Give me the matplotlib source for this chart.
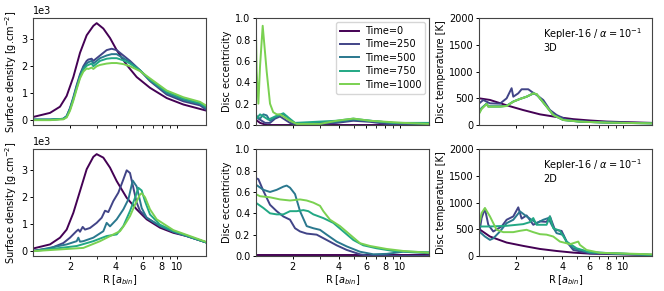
import matplotlib
matplotlib.use("Agg")
import matplotlib.pyplot as plt
from matplotlib.ticker import FixedLocator, FixedFormatter, NullFormatter

times = ["Time=0", "Time=250", "Time=500", "Time=750", "Time=1000"]
colors = ["#440154", "#414487", "#2a788e", "#22a884", "#7ad151"]

# ---------------- 3D : surface density (units of 1e3 g/cm^2) ----------------
sd3_r0 = [1.15, 1.479, 1.720, 1.902, 2.103, 2.326, 2.572, 2.844, 2.991, 3.307, 3.657, 4.045, 4.704, 5.470, 6.689, 8.604, 11.07, 15.5]
sd3_v0 = [0.12, 0.27, 0.5, 0.9, 1.6, 2.5, 3.15, 3.5, 3.6, 3.4, 3.05, 2.6, 2.05, 1.6, 1.2, 0.82, 0.58, 0.36]
sd3_r = [1.15, 1.479, 1.808, 1.902, 2.0, 2.103, 2.212, 2.326, 2.446, 2.572, 2.637, 2.773, 2.844, 2.991, 3.146, 3.478, 3.750, 4.045, 4.473, 4.946, 5.753, 6.689, 8.604, 11.07, 14.23, 15.5]
sd3_v250 = [0.02, 0.02, 0.05, 0.15, 0.45, 0.85, 1.3, 1.7, 2.0, 2.2, 2.25, 2.28, 2.2, 2.3, 2.4, 2.6, 2.65, 2.6, 2.4, 2.2, 1.85, 1.45, 0.95, 0.7, 0.55, 0.4]
sd3_v500 = [0.02, 0.02, 0.05, 0.15, 0.42, 0.8, 1.25, 1.65, 1.95, 2.1, 2.15, 2.2, 2.1, 2.2, 2.3, 2.4, 2.45, 2.45, 2.3, 2.15, 1.85, 1.48, 1.0, 0.75, 0.6, 0.45]
sd3_v750 = [0.02, 0.02, 0.05, 0.13, 0.4, 0.78, 1.2, 1.6, 1.88, 2.02, 2.05, 2.1, 2.0, 2.1, 2.2, 2.28, 2.3, 2.3, 2.22, 2.1, 1.85, 1.5, 1.05, 0.8, 0.63, 0.5]
sd3_v1000 = [0.0, 0.0, 0.03, 0.1, 0.35, 0.72, 1.15, 1.55, 1.8, 1.92, 1.9, 1.95, 1.9, 2.0, 2.05, 2.1, 2.12, 2.12, 2.08, 2.0, 1.82, 1.55, 1.1, 0.85, 0.68, 0.55]

# ---------------- 2D : surface density ----------------
sd2_r0 = [1.15, 1.479, 1.720, 1.902, 2.103, 2.326, 2.572, 2.844, 2.991, 3.307, 3.657, 4.045, 4.704, 5.470, 6.361, 7.780, 9.513, 11.63, 15.5]
sd2_v0 = [0.1, 0.25, 0.5, 0.8, 1.42, 2.23, 3.04, 3.5, 3.6, 3.47, 3.1, 2.6, 1.98, 1.55, 1.18, 0.87, 0.68, 0.56, 0.33]
sd2_r250 = [1.15, 1.479, 1.808, 2.0, 2.212, 2.268, 2.326, 2.422, 2.508, 2.705, 2.991, 3.226, 3.392, 3.566, 3.846, 4.148, 4.473, 4.704, 4.946, 5.203, 5.470, 5.753, 6.361, 7.780, 9.513, 11.63, 15.5]
sd2_v250 = [0.02, 0.1, 0.3, 0.5, 0.75, 0.8, 0.72, 0.9, 0.8, 0.86, 1.05, 1.24, 1.5, 1.45, 1.86, 2.17, 2.66, 3.0, 2.9, 2.35, 1.8, 1.49, 1.24, 0.93, 0.72, 0.56, 0.33]
sd2_r500 = [1.15, 1.902, 2.212, 2.268, 2.326, 2.446, 2.844, 3.307, 3.478, 3.657, 4.045, 4.473, 4.824, 5.150, 5.470, 5.899, 6.361, 7.780, 9.513, 15.5]
sd2_v500 = [0.0, 0.25, 0.37, 0.5, 0.35, 0.37, 0.5, 0.74, 1.05, 0.92, 1.18, 1.55, 1.92, 2.62, 2.4, 1.6, 1.24, 0.93, 0.72, 0.33]
sd2_r750 = [1.15, 2.212, 2.844, 3.478, 4.045, 4.473, 4.946, 5.336, 5.610, 5.899, 6.203, 6.689, 7.780, 9.513, 15.5]
sd2_v750 = [0.0, 0.19, 0.37, 0.56, 0.62, 0.93, 1.49, 1.98, 2.35, 2.25, 1.85, 1.36, 0.98, 0.75, 0.33]
sd2_r1000 = [1.15, 2.446, 3.146, 3.846, 4.254, 4.587, 4.946, 5.336, 5.753, 5.899, 6.203, 6.689, 7.397, 7.780, 9.513, 15.5]
sd2_v1000 = [0.0, 0.12, 0.37, 0.62, 0.74, 1.0, 1.3, 1.73, 2.1, 2.15, 2.0, 1.55, 1.18, 1.1, 0.78, 0.35]

# ---------------- 3D : eccentricity ----------------
ec3_r0 = [1.15, 1.227, 1.356, 2.0, 15.5]
ec3_v0 = [0.05, 0.02, 0.0, 0.0, 0.0]
ec3_r250 = [1.15, 1.197, 1.258, 1.323, 1.425, 1.537, 1.656, 1.784, 1.923, 2.126, 3.869, 4.966, 6.374, 8.182, 15.5]
ec3_v250 = [0.1, 0.06, 0.04, 0.02, 0.02, 0.06, 0.08, 0.05, 0.02, 0.0, 0.02, 0.04, 0.03, 0.01, 0.0]
ec3_r500 = [1.15, 1.227, 1.290, 1.356, 1.425, 1.575, 1.741, 1.829, 1.972, 2.126, 3.869, 4.966, 6.374, 9.042, 15.5]
ec3_v500 = [0.08, 0.06, 0.1, 0.09, 0.04, 0.08, 0.1, 0.08, 0.03, 0.01, 0.03, 0.05, 0.04, 0.02, 0.01]
ec3_r750 = [1.15, 1.227, 1.290, 1.390, 1.537, 1.741, 1.876, 2.073, 3.869, 4.966, 6.374, 9.042, 15.5]
ec3_v750 = [0.05, 0.1, 0.08, 0.05, 0.08, 0.11, 0.07, 0.02, 0.04, 0.06, 0.04, 0.02, 0.02]
ec3_r1000 = [1.15, 1.167, 1.197, 1.227, 1.277, 1.356, 1.425, 1.495, 1.575, 1.656, 1.741, 1.829, 1.923, 2.126, 3.015, 3.869, 4.966, 6.374, 8.182, 10.50, 15.5]
ec3_v1000 = [1.0, 0.5, 0.2, 0.55, 0.93, 0.5, 0.2, 0.12, 0.1, 0.1, 0.08, 0.06, 0.04, 0.01, 0.01, 0.04, 0.06, 0.04, 0.03, 0.02, 0.01]

# ---------------- 2D : eccentricity ----------------
ec2_r0 = [1.15, 15.5]
ec2_v0 = [0.01, 0.01]
ec2_r250 = [1.15, 1.197, 1.290, 1.425, 1.575, 1.741, 1.923, 2.073, 2.234, 2.469, 2.868, 3.332, 3.869, 4.494, 5.487, 6.374, 15.5]
ec2_v250 = [0.73, 0.72, 0.61, 0.48, 0.42, 0.37, 0.34, 0.26, 0.23, 0.21, 0.2, 0.15, 0.1, 0.057, 0.016, 0.0, 0.0]
ec2_r500 = [1.15, 1.290, 1.425, 1.575, 1.741, 1.829, 1.923, 2.073, 2.234, 2.469, 2.728, 3.015, 3.332, 3.869, 4.494, 5.487, 6.700, 8.182, 10.50, 15.5]
ec2_v500 = [0.67, 0.62, 0.6, 0.62, 0.65, 0.66, 0.64, 0.58, 0.42, 0.28, 0.26, 0.245, 0.2, 0.135, 0.09, 0.04, 0.016, 0.02, 0.04, 0.025]
ec2_r750 = [1.15, 1.290, 1.425, 1.575, 1.741, 1.923, 2.126, 2.349, 2.531, 2.728, 3.169, 3.681, 4.275, 4.966, 5.768, 7.043, 9.042, 11.61, 15.5]
ec2_v750 = [0.5, 0.45, 0.4, 0.39, 0.39, 0.42, 0.42, 0.43, 0.42, 0.39, 0.355, 0.31, 0.23, 0.15, 0.1, 0.072, 0.047, 0.04, 0.035]
ec2_r1000 = [1.15, 1.227, 1.425, 1.656, 1.923, 2.234, 2.469, 2.728, 3.015, 3.169, 3.502, 4.068, 4.724, 5.487, 6.374, 8.182, 10.50, 15.5]
ec2_v1000 = [0.58, 0.56, 0.55, 0.53, 0.52, 0.53, 0.52, 0.5, 0.47, 0.42, 0.34, 0.28, 0.2, 0.12, 0.094, 0.066, 0.047, 0.03]

# ---------------- 3D : temperature ----------------
te3_r0 = [1.15, 1.350, 1.735, 2.228, 2.863, 3.678, 4.725, 6.070, 7.798, 10.02, 15.5]
te3_v0 = [500, 470, 370, 280, 200, 150, 110, 85, 65, 55, 40]
te3_r250 = [1.15, 1.221, 1.350, 1.569, 1.735, 1.823, 1.870, 1.918, 2.067, 2.174, 2.402, 2.525, 2.723, 3.010, 3.328, 3.678, 4.274, 5.223, 7.798, 15.5]
te3_v250 = [406, 469, 406, 400, 500, 625, 690, 531, 594, 670, 670, 625, 563, 469, 281, 188, 100, 70, 50, 35]
te3_r = [1.15, 1.191, 1.284, 1.317, 1.569, 1.735, 1.918, 2.120, 2.342, 2.590, 2.723, 2.863, 3.164, 3.498, 4.066, 5.223, 7.798, 15.5]
te3_v500 = [250, 320, 400, 350, 350, 360, 440, 490, 530, 590, 575, 500, 350, 190, 95, 63, 45, 31]
te3_v750 = [230, 310, 398, 346, 346, 358, 438, 488, 531, 592, 578, 500, 346, 188, 94, 63, 45, 31]
te3_v1000 = [219, 300, 394, 344, 344, 356, 438, 488, 531, 594, 580, 500, 344, 188, 94, 63, 45, 31]

# ---------------- 2D : temperature ----------------
te2_r0 = [1.15, 1.350, 1.735, 2.228, 2.863, 3.678, 4.725, 6.070, 15.5]
te2_v0 = [503, 365, 252, 189, 132, 94, 63, 44, 19]
te2_r250 = [1.15, 1.191, 1.252, 1.317, 1.419, 1.609, 1.735, 1.918, 2.067, 2.174, 2.342, 2.590, 2.863, 3.164, 3.328, 3.587, 3.965, 4.274, 4.725, 6.070, 15.5]
te2_v250 = [428, 711, 887, 585, 459, 553, 679, 742, 912, 700, 760, 585, 648, 640, 742, 491, 470, 270, 113, 50, 20]
te2_r500 = [1.15, 1.252, 1.350, 1.419, 1.569, 1.735, 1.918, 2.120, 2.342, 2.723, 3.010, 3.245, 3.412, 3.678, 4.066, 4.274, 4.725, 6.070, 15.5]
te2_v500 = [459, 365, 302, 330, 459, 616, 679, 836, 742, 616, 679, 711, 585, 428, 396, 270, 145, 69, 20]
te2_r750 = [1.15, 1.350, 1.735, 2.228, 2.463, 2.590, 2.723, 3.164, 3.328, 3.498, 3.867, 4.274, 4.968, 6.070, 15.5]
te2_v750 = [553, 553, 566, 597, 635, 711, 585, 585, 742, 522, 472, 270, 145, 69, 20]
te2_r1000 = [1.15, 1.191, 1.252, 1.350, 1.492, 1.650, 1.918, 2.120, 2.342, 2.590, 2.863, 3.164, 3.498, 3.867, 4.274, 4.494, 5.093, 5.223, 5.772, 7.056, 15.5]
te2_v1000 = [597, 805, 900, 742, 491, 447, 447, 472, 491, 447, 409, 400, 365, 270, 239, 220, 270, 208, 113, 60, 31]

x_major = [2, 4, 6, 8, 10]
x_major_labels = ["2", "4", "6", "8", "10"]
x_minor = [3, 5, 7, 9]
xlim = (1.15, 15.5)

FS = 7
plt.rcParams.update({
    "font.size": FS,
    "axes.edgecolor": "#444444",
    "axes.linewidth": 0.8,
    "xtick.major.size": 2.5,
    "xtick.minor.size": 2.0,
    "ytick.major.size": 2.5,
    "xtick.major.width": 0.7,
    "ytick.major.width": 0.7,
})

fig = plt.figure(figsize=(6.64, 2.91), dpi=100)
lefts = [0.0502, 0.3851, 0.7218]
widths = [0.2596, 0.2614, 0.2605]
bottoms = [0.5704, 0.1203]
h = 0.3667

axes = [[fig.add_axes([lefts[c], bottoms[r], widths[c], h]) for c in range(3)] for r in range(2)]

def plot_series(ax, rs, vs, scale=1.0, lw=1.4):
    for r, v, col, lab in zip(rs, vs, colors, times):
        ax.plot(r, [x * scale for x in v], color=col, lw=lw, label=lab)

# surface density
plot_series(axes[0][0], [sd3_r0, sd3_r, sd3_r, sd3_r, sd3_r],
            [sd3_v0, sd3_v250, sd3_v500, sd3_v750, sd3_v1000], scale=1000)
plot_series(axes[1][0], [sd2_r0, sd2_r250, sd2_r500, sd2_r750, sd2_r1000],
            [sd2_v0, sd2_v250, sd2_v500, sd2_v750, sd2_v1000], scale=1000)
# eccentricity
plot_series(axes[0][1], [ec3_r0, ec3_r250, ec3_r500, ec3_r750, ec3_r1000],
            [ec3_v0, ec3_v250, ec3_v500, ec3_v750, ec3_v1000])
plot_series(axes[1][1], [ec2_r0, ec2_r250, ec2_r500, ec2_r750, ec2_r1000],
            [ec2_v0, ec2_v250, ec2_v500, ec2_v750, ec2_v1000])
# temperature
plot_series(axes[0][2], [te3_r0, te3_r250, te3_r, te3_r, te3_r],
            [te3_v0, te3_v250, te3_v500, te3_v750, te3_v1000])
plot_series(axes[1][2], [te2_r0, te2_r250, te2_r500, te2_r750, te2_r1000],
            [te2_v0, te2_v250, te2_v500, te2_v750, te2_v1000])

for r in range(2):
    for c in range(3):
        ax = axes[r][c]
        ax.set_xscale("log")
        ax.set_xlim(*xlim)
        ax.xaxis.set_major_locator(FixedLocator(x_major))
        ax.xaxis.set_minor_locator(FixedLocator(x_minor))
        ax.xaxis.set_minor_formatter(NullFormatter())
        if r == 1:
            ax.xaxis.set_major_formatter(FixedFormatter(x_major_labels))
            ax.set_xlabel(r"R [$a_{bin}$]", labelpad=1)
        else:
            ax.xaxis.set_major_formatter(NullFormatter())
        ax.tick_params(labelsize=FS, pad=1.5)
    axes[r][0].ticklabel_format(axis="y", style="sci", scilimits=(3, 3))
    axes[r][0].set_ylabel(r"Surface density [g.cm$^{-2}$]", labelpad=2)
    axes[r][1].set_ylim(0, 1.0)
    axes[r][1].set_ylabel("Disc eccentricity", labelpad=2)
    axes[r][2].set_ylim(0, 2000)
    axes[r][2].set_ylabel("Disc temperature [K]", labelpad=2)

for ax in (axes[0][0], axes[1][0]):
    ax.yaxis.get_offset_text().set_fontsize(FS)

axes[0][2].text(0.37, 0.93, "Kepler-16 / $\\alpha = 10^{-1}$\n3D", transform=axes[0][2].transAxes,
                va="top", ha="left", fontsize=FS)
axes[1][2].text(0.37, 0.93, "Kepler-16 / $\\alpha = 10^{-1}$\n2D", transform=axes[1][2].transAxes,
                va="top", ha="left", fontsize=FS)

axes[0][1].legend(loc="upper right", fontsize=FS, handlelength=2.0, borderaxespad=0.4,
                  labelspacing=0.35, handletextpad=0.6, borderpad=0.4)

fig.savefig("out.png", dpi=100)
